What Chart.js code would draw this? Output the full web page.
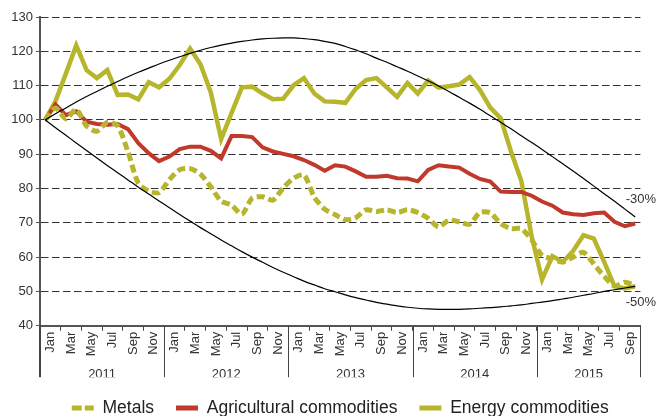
<!DOCTYPE html>
<html>
<head>
<meta charset="utf-8">
<script src="https://cdn.jsdelivr.net/npm/chart.js@4.4.0/dist/chart.umd.min.js"></script>
<style>
  html, body { margin: 0; padding: 0; background: #fff; }
  #wrap { width: 657px; height: 416px; }
</style>
</head>
<body>
<div id="wrap"><canvas id="chart"></canvas></div>
<script>
// months Jan 2011 - Oct 2015
const months = [
  "Jan", "Feb", "Mar", "Apr", "May", "Jun", "Jul", "Aug", "Sep", "Oct", "Nov", "Dec",
  "Jan", "Feb", "Mar", "Apr", "May", "Jun", "Jul", "Aug", "Sep", "Oct", "Nov", "Dec",
  "Jan", "Feb", "Mar", "Apr", "May", "Jun", "Jul", "Aug", "Sep", "Oct", "Nov", "Dec",
  "Jan", "Feb", "Mar", "Apr", "May", "Jun", "Jul", "Aug", "Sep", "Oct", "Nov", "Dec",
  "Jan", "Feb", "Mar", "Apr", "May", "Jun", "Jul", "Aug", "Sep", "Oct"
];
const years = ["2011", "2012", "2013", "2014", "2015"];
const yearCenters = [6, 18, 30, 42, 53];
const yearBounds = [0, 12, 24, 36, 48, 58];

const metals = [
  100, 103.5, 100.3, 103.1, 98.2, 96.7, 99.3, 98.3, 90.7, 81.5, 79.3, 78.8,
  82.6, 85.5, 85.8, 84.2, 80.5, 76.3, 75.2, 72.5, 77.2, 77.6, 76.6, 80.2,
  83.0, 84.0, 77.5, 74.0, 72.4, 70.9, 71.5, 73.8, 73.3, 73.8, 73.0, 73.8,
  73.0, 71.3, 68.8, 70.8, 70.3, 69.6, 73.0, 72.9, 69.8, 68.3, 68.3, 65.0,
  60.5, 59.5, 58.6, 60.0, 61.4, 58.0, 54.4, 51.6, 52.7, 51.8
];
const agricultural = [
  100, 104.5, 101.4, 102.5, 99.5, 98.8, 98.6, 98.8, 97.3, 93.2, 90.3, 88.0,
  89.3, 91.5, 92.2, 92.2, 91.0, 88.8, 95.3, 95.3, 95.0, 92.0, 90.8, 90.1,
  89.4, 88.3, 86.9, 85.2, 86.8, 86.4, 85.0, 83.4, 83.4, 83.7, 83.0, 82.9,
  82.1, 85.4, 86.8, 86.4, 86.1, 84.3, 82.8, 82.0, 79.1, 79.0, 79.0, 77.9,
  76.2, 75.0, 73.0, 72.5, 72.3, 72.8, 73.0, 70.3, 69.0, 69.8
];
const energy = [
  100, 105.5, 113.5, 121.7, 114.5, 112.2, 114.5, 107.3, 107.4, 106.0, 111.0, 109.5,
  112.0, 116.0, 120.8, 116.2, 108.0, 94.4, 102.0, 109.5, 109.7, 107.7, 106.0, 106.2,
  110.1, 112.2, 107.7, 105.4, 105.3, 105.0, 109.1, 111.6, 112.2, 109.5, 106.7, 110.8,
  107.7, 111.5, 109.4, 109.8, 110.3, 112.5, 108.7, 103.6, 100.5, 90.8, 82.2, 66.0,
  53.5, 60.3, 58.6, 61.8, 66.4, 65.4, 58.6, 51.5, 50.9, 51.5
];
// guide curves towards -30% and -50%
const upperCurve = [
  100, 101.8, 103.5, 105.2, 106.8, 108.3, 109.8, 111.2, 112.6, 113.9, 115.1, 116.3,
  117.4, 118.4, 119.4, 120.3, 121.1, 121.8, 122.4, 122.9, 123.3, 123.6, 123.8, 123.9,
  123.9, 123.7, 123.4, 122.9, 122.3, 121.4, 120.4, 119.3, 118.0, 116.8, 115.5, 114.2,
  112.8, 111.4, 109.9, 108.3, 106.6, 104.9, 103.1, 101.2, 99.3, 97.4, 95.4, 93.4,
  91.4, 89.3, 87.2, 85.1, 82.9, 80.7, 78.5, 76.3, 74.0, 71.7
];
const lowerCurve = [
  100, 97.7, 95.5, 93.3, 91.1, 88.9, 86.7, 84.6, 82.5, 80.4, 78.4, 76.4,
  74.4, 72.4, 70.5, 68.6, 66.8, 65.0, 63.3, 61.6, 60.0, 58.5, 57.0, 55.6,
  54.3, 53.0, 51.9, 50.8, 49.9, 49.0, 48.2, 47.5, 46.8, 46.3, 45.8, 45.4,
  45.1, 44.9, 44.8, 44.8, 44.8, 44.9, 45.1, 45.3, 45.5, 45.8, 46.1, 46.5,
  46.9, 47.3, 47.8, 48.3, 48.9, 49.4, 50.0, 50.5, 51.0, 51.5
];
const pctLabels = ["-30%", "-50%"];
const pctValues = [76.9, 46.9];

const yellow = "#b7b52b";
const red = "#c0392b";
const font = '"Liberation Sans", Arial, sans-serif';
Chart.defaults.font.family = font;

const points = arr => arr.map((v, i) => ({ x: i + 0.5, y: v }));

const monthTicks = [];
for (let i = 0; i <= months.length; i++) monthTicks.push(i);

// year separators and the -30% / -50% notes
const decorations = {
  id: "decorations",
  afterDraw(chart) {
    const { ctx } = chart;
    const x = chart.scales.x;
    const x2 = chart.scales.x2;
    const y = chart.scales.y;
    ctx.save();
    ctx.strokeStyle = "#444";
    for (const b of yearBounds) {
      const px = b === 0 ? x.left : Math.round(x.getPixelForValue(b)) + 0.5;
      ctx.lineWidth = b === 0 ? 2 : 1;
      ctx.beginPath();
      ctx.moveTo(px, x.top);
      ctx.lineTo(px, x2.bottom);
      ctx.stroke();
    }
    ctx.fillStyle = "#333";
    ctx.font = "13px " + font;
    ctx.textAlign = "right";
    ctx.textBaseline = "middle";
    pctLabels.forEach((t, i) => {
      ctx.fillText(t, chart.width - 1, y.getPixelForValue(pctValues[i]));
    });
    ctx.restore();
  }
};

// legend entries drawn as short lines, dashed for metals
const legendLabels = chart =>
  chart.data.datasets.slice(0, 3).map((ds, i) => ({
    text: ds.label,
    datasetIndex: i,
    fillStyle: ds.borderColor,
    strokeStyle: ds.borderColor,
    lineWidth: 5,
    lineDash: ds.borderDash ? [10, 3] : [],
    lineCap: "butt",
    pointStyle: "line",
    fontColor: "#222",
    hidden: false
  }));

new Chart(document.getElementById("chart"), {
  type: "line",
  data: {
    datasets: [
      {
        label: "Metals",
        data: points(metals),
        borderColor: yellow,
        backgroundColor: yellow,
        borderWidth: 5,
        borderDash: [8, 4],
        tension: 0.25,
        pointRadius: 0
      },
      {
        label: "Agricultural commodities",
        data: points(agricultural),
        borderColor: red,
        backgroundColor: red,
        borderWidth: 4,
        tension: 0,
        pointRadius: 0
      },
      {
        label: "Energy commodities",
        data: points(energy),
        borderColor: yellow,
        backgroundColor: yellow,
        borderWidth: 4.5,
        tension: 0,
        pointRadius: 0
      },
      {
        label: "upper",
        data: points(upperCurve),
        borderColor: "#000",
        borderWidth: 1.2,
        tension: 0.4,
        pointRadius: 0,
        order: -1
      },
      {
        label: "lower",
        data: points(lowerCurve),
        borderColor: "#000",
        borderWidth: 1.2,
        tension: 0.4,
        pointRadius: 0,
        order: -1
      }
    ]
  },
  options: {
    responsive: true,
    maintainAspectRatio: false,
    animation: false,
    events: [],
    layout: { padding: { top: 17, right: 4, bottom: -10.75, left: 0 } },
    plugins: {
      tooltip: { enabled: false },
      legend: {
        position: "bottom",
        fullSize: false,
        labels: {
          usePointStyle: true,
          pointStyle: "line",
          pointStyleWidth: 22,
          padding: 22,
          color: "#222",
          font: { size: 17.5 },
          generateLabels: legendLabels
        }
      }
    },
    scales: {
      x: {
        type: "linear",
        position: "bottom",
        min: 0,
        max: months.length,
        afterBuildTicks: axis => {
          axis.ticks = monthTicks.map(v => ({ value: v }));
        },
        afterFit: axis => {
          axis.height = 33.5;
        },
        ticks: {
          autoSkip: false,
          minRotation: 90,
          maxRotation: 90,
          padding: 1,
          color: "#333",
          font: { size: 13 },
          callback: v => (v % 2 === 1 ? months[v - 1] : "")
        },
        grid: {
          drawOnChartArea: false,
          tickLength: 5,
          tickWidth: 1,
          tickColor: c => (c.tick && c.tick.value % 2 === 0 ? "#444" : "rgba(0,0,0,0)")
        },
        border: { color: "#555", width: 2 }
      },
      x2: {
        type: "linear",
        position: "bottom",
        min: 0,
        max: months.length,
        afterBuildTicks: axis => {
          axis.ticks = yearCenters.map(v => ({ value: v }));
        },
        afterFit: axis => {
          axis.height = 18;
        },
        ticks: {
          autoSkip: false,
          maxRotation: 0,
          padding: 7,
          color: "#333",
          font: { size: 13 },
          callback: (v, i) => years[i]
        },
        grid: { display: false, drawTicks: false },
        border: { display: false }
      },
      y: {
        min: 40,
        max: 130,
        afterFit: axis => {
          axis.width = 40;
        },
        ticks: {
          stepSize: 10,
          padding: 3,
          color: "#333",
          font: { size: 13 }
        },
        grid: {
          color: "#333",
          lineWidth: 1,
          tickLength: 4,
          tickColor: "#555"
        },
        border: { color: "#555", width: 2, dash: [7.5, 3.5] }
      }
    }
  },
  plugins: [decorations]
});
</script>
</body>
</html>
